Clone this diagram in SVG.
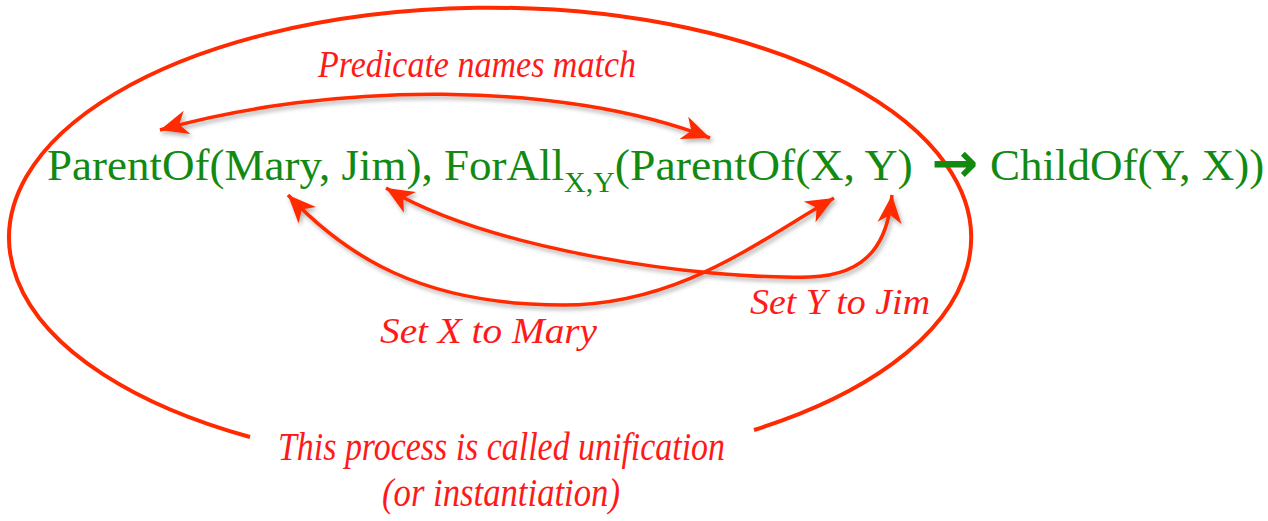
<svg xmlns="http://www.w3.org/2000/svg" width="1268" height="521" viewBox="0 0 1268 521">
<style>
.g{font-family:"Liberation Serif","Times New Roman",serif;fill:#128a12;font-size:45px}
.lbl{font-family:"Liberation Serif","Times New Roman",serif;font-style:italic;fill:#ff1a1a}
.conn{fill:none;stroke:#ff2a00;stroke-width:3.5}
</style>
<defs>
<marker id="ah" markerUnits="userSpaceOnUse" markerWidth="30" markerHeight="26" viewBox="0 0 30 26" refX="28" refY="13" orient="auto-start-reverse">
<path d="M28,13 L0,1 L8,13 L0,25 Z" fill="#ff2a00"/>
</marker>
<filter id="sh" x="-10%" y="-10%" width="120%" height="130%">
<feDropShadow dx="2" dy="3" stdDeviation="2" flood-color="#000" flood-opacity="0.3"/>
</filter>
</defs>
<rect width="1268" height="521" fill="#ffffff"/>
<g id="boundary">
<path d="M 250 437 A 481 230 0 1 1 754 430" fill="none" stroke="#ff2a00" stroke-width="4"/>
</g>
<g id="connectors" filter="url(#sh)">
<path class="conn" d="M 160 130 C 330 82, 560 80, 710 138" marker-start="url(#ah)" marker-end="url(#ah)"/>
<path class="conn" d="M 288 195 C 345 255, 420 305, 563 305 C 680 305, 760 240, 834 198" marker-start="url(#ah)" marker-end="url(#ah)"/>
<path class="conn" d="M 386 188 C 490 250, 700 280, 810 277 C 870 275, 888 240, 892 195" marker-start="url(#ah)" marker-end="url(#ah)"/>
</g>
<g id="formula">
<text class="g" x="47" y="180">ParentOf(Mary, Jim), ForAll<tspan font-size="30" dy="12">X,Y</tspan><tspan dy="-12" textLength="298" lengthAdjust="spacingAndGlyphs">(ParentOf(X, Y)</tspan></text>
<text x="955" y="182" text-anchor="middle" style="font-family:'DejaVu Sans',sans-serif;font-weight:bold;font-size:56px;fill:#128a12">→</text>
<text class="g" x="990" y="180">ChildOf(Y, X))</text>
</g>
<g id="label-predicate">
<text class="lbl" x="318" y="77" font-size="38" textLength="318" lengthAdjust="spacingAndGlyphs">Predicate names match</text>
</g>
<g id="label-setx">
<text class="lbl" x="380" y="343" font-size="36" textLength="217" lengthAdjust="spacingAndGlyphs">Set X to Mary</text>
</g>
<g id="label-sety">
<text class="lbl" x="750" y="314" font-size="36" textLength="180" lengthAdjust="spacingAndGlyphs">Set Y to Jim</text>
</g>
<g id="label-unification">
<text class="lbl" x="278" y="460" font-size="40" textLength="447" lengthAdjust="spacingAndGlyphs">This process is called unification</text>
<text class="lbl" x="382" y="506" font-size="40" textLength="238" lengthAdjust="spacingAndGlyphs">(or instantiation)</text>
</g>
</svg>
